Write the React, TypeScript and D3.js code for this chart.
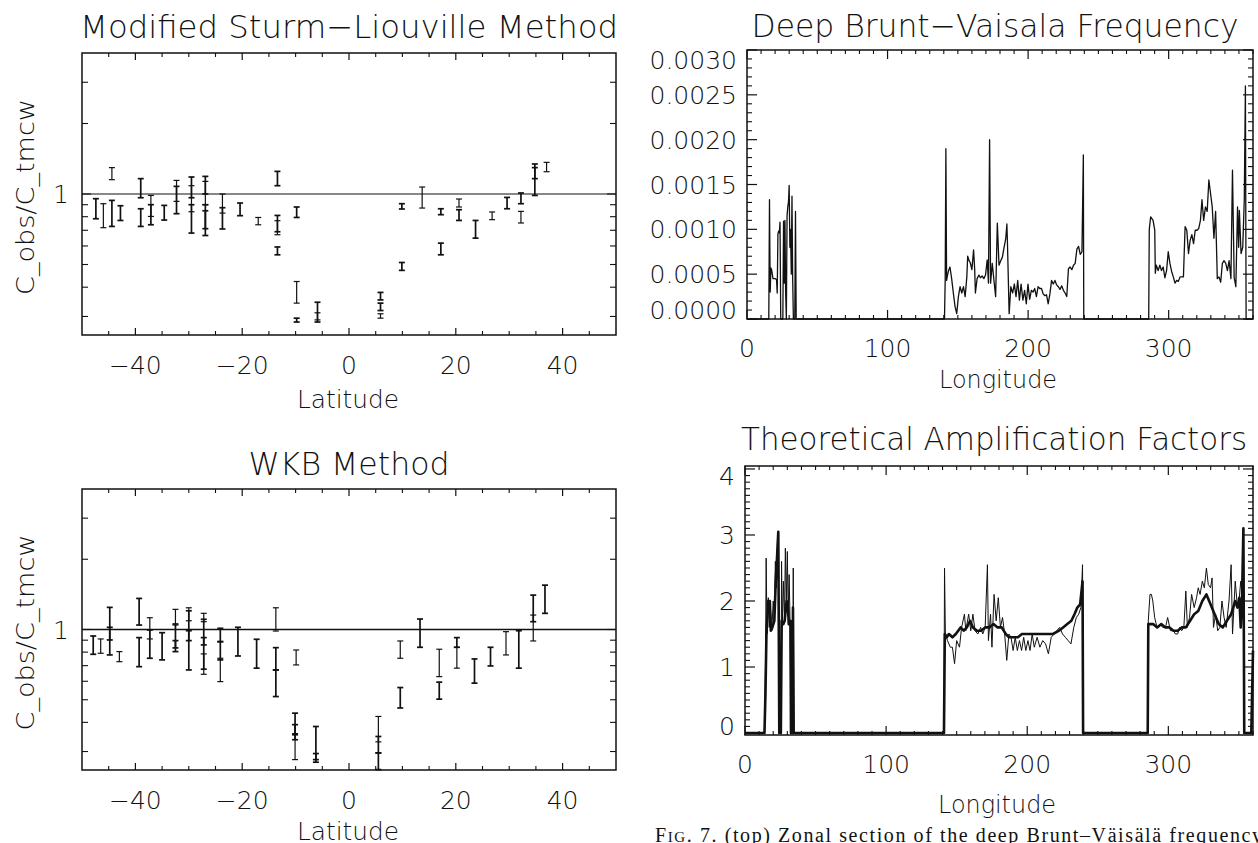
import React from 'react';
import * as d3 from 'd3';

// C_obs / C_tmcw error bars, Modified Sturm-Liouville method
const mslLat = [-47.4, -46.0, -44.4, -42.8, -44.4, -39.0, -39.0, -37.1, -37.1, -34.6, -32.3, -32.3, -29.5, -29.5, -29.5,
  -26.9, -26.9, -26.9, -26.9, -23.7, -23.7, -20.4, -17.0, -13.4, -13.4, -13.4, -13.4, -9.8, -9.8, -9.8, -5.9, -5.9,
  5.9, 5.9, 5.9, 9.9, 9.9, 13.7, 17.2, 17.2, 20.6, 20.6, 23.7, 26.8, 29.6, 32.2, 32.2, 34.8, 34.8, 37.0];
const mslLow = [0.784, 0.718, 0.727, 0.771, 1.151, 0.964, 0.727, 0.802, 0.739, 0.774, 0.930, 0.824, 0.964, 0.840, 0.681,
  1.000, 0.900, 0.665, 0.711, 0.829, 0.709, 0.808, 0.739, 1.085, 0.690, 0.670, 0.550, 0.794, 0.342, 0.284, 0.284, 0.290,
  0.353, 0.318, 0.295, 0.863, 0.472, 0.871, 0.816, 0.550, 0.880, 0.771, 0.648, 0.777, 0.865, 0.909, 0.752, 0.986, 1.163, 1.245];
const mslHigh = [0.955, 0.909, 0.939, 0.891, 1.296, 1.163, 0.865, 0.986, 0.900, 0.894, 1.143, 1.078, 1.182, 1.085, 0.900,
  1.189, 1.132, 0.900, 0.848, 1.000, 0.874, 0.915, 0.794, 1.249, 0.810, 0.769, 0.594, 0.880, 0.423, 0.295, 0.345, 0.311,
  0.380, 0.342, 0.308, 0.909, 0.510, 1.071, 0.865, 0.617, 0.952, 0.857, 0.771, 0.838, 0.967, 1.010, 0.843, 1.343, 1.296, 1.365];

// C_obs / C_tmcw error bars, WKB method
const wkbLat = [-47.9, -46.5, -44.8, -44.8, -43.0, -39.3, -39.3, -37.3, -37.3, -35.0, -32.5, -32.5, -32.5, -30.0, -30.0,
  -30.0, -27.2, -27.2, -27.2, -27.2, -24.1, -24.1, -24.1, -20.8, -17.3, -13.7, -13.7, -13.7, -9.9, -10.1, -10.1, -10.1,
  -6.2, -6.2, 5.5, 5.5, 5.5, 9.6, 9.6, 13.3, 16.9, 16.9, 20.2, 20.2, 23.5, 26.5, 29.4, 31.8, 34.5, 34.5, 36.7];
const wkbLow = [0.783, 0.791, 0.778, 0.902, 0.728, 1.045, 0.693, 0.911, 0.753, 0.741, 1.045, 0.834, 0.804, 1.090, 0.896,
  0.671, 1.080, 0.859, 0.676, 0.643, 0.887, 0.741, 0.598, 0.770, 0.683, 0.985, 0.671, 0.516, 0.705, 0.354, 0.337, 0.277,
  0.270, 0.277, 0.330, 0.296, 0.251, 0.753, 0.461, 0.839, 0.628, 0.503, 0.839, 0.683, 0.589, 0.698, 0.778, 0.683, 1.080, 0.893, 1.173];
const wkbHigh = [0.938, 0.911, 1.244, 1.022, 0.804, 1.359, 0.923, 1.123, 0.995, 0.969, 1.220, 1.056, 0.896, 1.239, 1.203,
  0.988, 1.173, 1.106, 0.923, 0.786, 1.012, 0.887, 0.753, 1.022, 0.908, 1.239, 0.836, 0.671, 0.817, 0.438, 0.391, 0.358,
  0.384, 0.294, 0.424, 0.348, 0.296, 0.893, 0.564, 1.109, 0.823, 0.595, 0.923, 0.839, 0.748, 0.839, 0.979, 0.988, 1.404, 1.153, 1.549];

// deep Brunt-Vaisala frequency along longitude
const bvLon = [0, 15.5, 16.0, 16.5, 17.0, 17.5, 18.5, 20.0, 21.0, 21.5, 22.0, 22.5, 23.0, 23.5, 24.0, 25.5, 26.0, 26.5,
  27.0, 27.5, 28.0, 28.5, 29.0, 29.5, 30.0, 30.5, 31.0, 31.5, 32.0, 32.5, 33.0, 34.0, 34.5, 35.0,
  140.5, 141.0, 141.5, 142.0, 142.8, 143.6, 144.4, 145.6, 146.8, 148.0, 149.2, 150.4, 151.6, 152.8, 154.0, 155.2, 156.4,
  157.0, 158.0, 158.8, 160.0, 161.2, 162.0, 162.5, 163.7, 165.0, 166.1, 167.3, 168.5, 169.7, 170.9, 171.8, 172.6, 173.3,
  174.5, 175.7, 176.9, 178.1, 179.3, 180.5, 181.7, 182.9, 184.1, 184.9, 185.3, 186.5, 187.7, 189.0, 190.2, 191.4, 192.6,
  193.8, 195.0, 196.3, 197.5, 198.7, 199.9, 201.1, 202.3, 203.5, 204.7, 205.9, 207.1, 208.3, 209.5, 210.7, 211.9, 213.1,
  214.3, 215.5, 216.7, 217.9, 219.1, 220.3, 221.5, 222.7, 223.9, 225.1, 226.3, 227.5, 228.7, 229.9, 231.1, 232.3, 233.5,
  234.7, 235.9, 237.1, 238.3, 239.3, 239.6,
  285.8, 286.2, 287.2, 288.9, 290.1, 290.5, 291.2, 292.5, 293.7, 294.9, 296.1, 297.3, 298.5, 299.7, 300.9, 302.1, 303.3,
  304.5, 305.7, 306.9, 308.1, 310.5, 311.7, 312.9, 314.1, 315.3, 316.5, 317.7, 318.9, 320.2, 321.4, 322.6, 323.7, 324.9,
  326.2, 327.4, 328.6, 329.8, 331.0, 332.2, 333.4, 334.6, 335.8, 337.0, 338.2, 339.4, 340.6, 341.8, 343.0, 344.3, 345.4,
  346.6, 347.8, 349.0, 349.8, 350.3, 351.5, 352.7, 353.8, 354.6, 355.1, 360];
const bvFreq = [0, 0, 0.00133, 0.00030, 0.00057, 0.00055, 0.00045, 0.00045, 0.00044, 0.00029, 0.00095, 0.00098, 0.00096,
  0.00108, 0, 0, 0.00109, 0.00040, 0.00110, 0.00030, 0, 0.00115, 0.00125, 0.00130, 0.00149, 0.00080, 0.00100, 0.00050,
  0.00137, 0.00045, 0, 0, 0.00120, 0,
  0, 0.00043, 0.00190, 0.00043, 0.00050, 0.00055, 0.00058, 0.00045, 0.00029, 0.00014, 0.00006, 0.00025, 0.00036, 0.00029,
  0.00036, 0.00025, 0.00047, 0.00070, 0.00065, 0.00063, 0.00055, 0.00077, 0.00055, 0.00029, 0.00045, 0.00049, 0.00046,
  0.00048, 0.00045, 0.00049, 0.00066, 0.00040, 0.00200, 0.00040, 0.00062, 0.00043, 0.00025, 0.00107, 0.00060, 0.00065,
  0.00069, 0.00080, 0.00090, 0.00106, 0.00085, 0.00006, 0.00036, 0.00029, 0.00039, 0.00025, 0.00043, 0.00021, 0.00039,
  0.00021, 0.00032, 0.00017, 0.00039, 0.00022, 0.00032, 0.00030, 0.00034, 0.00025, 0.00036, 0.00034, 0.00034, 0.00028,
  0.00026, 0.00027, 0.00017, 0.00028, 0.00043, 0.00039, 0.00043, 0.00038, 0.00036, 0.00033, 0.00037, 0.00032, 0.00029,
  0.00025, 0.00056, 0.00058, 0.00055, 0.00060, 0.00062, 0.00078, 0.00081, 0.00072, 0.00075, 0.00183, 0,
  0, 0.00100, 0.00114, 0.00110, 0.00099, 0.00051, 0.00060, 0.00054, 0.00060, 0.00054, 0.00058, 0.00046, 0.00054, 0.00075,
  0.00062, 0.00053, 0.00047, 0.00040, 0.00043, 0.00042, 0.00047, 0.00047, 0.00103, 0.00099, 0.00073, 0.00088, 0.00094,
  0.00084, 0.00099, 0.00099, 0.00101, 0.00110, 0.00133, 0.00110, 0.00125, 0.00120, 0.00155, 0.00140, 0.00125, 0.00090,
  0.00120, 0.00045, 0.00047, 0.00041, 0.00062, 0.00065, 0.00062, 0.00054, 0.00065, 0.00045, 0.00166, 0.00046, 0.00036,
  0.00125, 0.00080, 0.00121, 0.00073, 0.00080, 0.00133, 0.00260, 0, 0];

// theoretical amplification factor, smooth (thick) curve
const ampLon = [0, 13.8, 14.5, 15.2, 16.5, 17.6, 18.3, 19.4, 20.8, 21.8, 22.8, 23.6, 24.3, 25.4, 26.0, 27.2, 28.1, 29.5,
  30.5, 31.0, 32.2, 32.6, 33.6, 34.0, 34.5,
  141.0, 141.6, 143.0, 144.5, 147.0, 149.4, 152.8, 155.0, 157.2, 159.5, 161.5, 164.4, 167.3, 170.2, 173.2, 176.1, 179.0,
  181.9, 184.8, 187.1, 190.5, 193.4, 196.3, 199.2, 202.2, 205.1, 208.0, 210.9, 215.3, 218.2, 222.5, 225.4, 228.4, 231.3,
  233.5, 235.5, 237.5, 239.2, 239.6,
  285.4, 285.8, 287.7, 289.2, 292.1, 295.0, 297.9, 300.8, 303.7, 306.6, 309.5, 312.4, 315.4, 318.3, 321.2, 324.1, 327.0,
  329.9, 332.8, 335.7, 338.6, 341.5, 344.5, 347.4, 349.0, 350.3, 351.3, 352.2, 353.2, 353.8, 358.8, 360];
const ampSmooth = [0, 0, 0.6, 1.5, 2.0, 2.0, 1.55, 1.6, 1.7, 2.3, 2.7, 3.05, 0, 0, 1.7, 1.65, 1.7, 2.0, 1.9, 1.65, 1.7, 0,
  0, 1.9, 0,
  0, 1.5, 1.45, 1.5, 1.45, 1.5, 1.6, 1.55, 1.6, 1.7, 1.6, 1.55, 1.55, 1.6, 1.6, 1.65, 1.6, 1.6, 1.5, 1.45, 1.45, 1.45,
  1.5, 1.5, 1.5, 1.5, 1.5, 1.5, 1.5, 1.5, 1.55, 1.6, 1.65, 1.7, 1.8, 1.9, 1.95, 2.3, 0,
  0, 1.65, 1.65, 1.65, 1.6, 1.65, 1.6, 1.6, 1.55, 1.55, 1.6, 1.6, 1.7, 1.8, 1.85, 2.0, 2.1, 1.95, 1.8, 1.65, 1.6, 1.7,
  1.8, 2.0, 1.9, 2.05, 1.6, 2.0, 3.1, 0, 0, 1.25];

// theoretical amplification factor, raw (thin) curve
const ampRawLon = [0, 13.8, 14.5, 15.0, 15.6, 16.5, 17.2, 18.0, 19.0, 20.0, 20.8, 21.5, 22.3, 23.0, 23.7, 24.3, 25.5,
  25.9, 26.4, 27.2, 28.0, 28.6, 29.3, 30.0, 30.6, 31.3, 32.0, 32.5, 33.8, 34.2, 34.6,
  141.0, 141.4, 142.0, 143.5, 145.5, 147.0, 148.5, 150.0, 152.0, 153.5, 155.5, 156.5, 158.5, 160.0, 161.5, 163.0, 165.0,
  167.0, 168.5, 170.2, 171.8, 172.5, 174.0, 175.0, 176.5, 178.0, 179.5, 181.0, 182.5, 184.0, 185.5, 187.0, 188.5, 190.0,
  191.5, 193.0, 194.5, 196.0, 197.5, 199.0, 200.5, 202.0, 203.5, 205.0, 207.0, 209.0, 211.0, 213.0, 215.0, 217.0, 219.0,
  221.0, 223.0, 225.0, 227.0, 229.0, 231.0, 233.0, 234.8, 236.5, 238.0, 239.2, 239.6,
  285.4, 285.8, 287.0, 288.0, 289.0, 290.3, 292.0, 294.0, 296.0, 298.0, 299.5, 301.5, 303.7, 305.0, 306.6, 308.0, 309.5,
  311.0, 312.4, 313.5, 315.0, 316.5, 318.3, 320.0, 321.2, 322.5, 324.1, 325.5, 327.0, 328.3, 329.9, 331.0, 332.0, 333.5,
  335.0, 336.5, 338.0, 339.5, 341.0, 343.0, 344.5, 345.5, 347.4, 349.0, 350.3, 351.3, 352.2, 353.2, 353.8, 360];
const ampRaw = [0, 0, 1.0, 2.65, 1.5, 2.05, 1.6, 1.9, 1.55, 2.0, 1.7, 2.6, 2.2, 2.9, 3.05, 0, 0, 2.6, 1.6, 2.3, 1.7, 2.8,
  2.0, 2.75, 1.8, 2.4, 1.6, 0, 0, 2.5, 0,
  0, 2.5, 1.5, 1.4, 1.3, 1.3, 1.05, 1.4, 1.3, 1.6, 1.8, 1.55, 1.8, 1.55, 1.8, 1.55, 1.5, 1.6, 1.5, 1.6, 2.55, 1.4, 1.8,
  1.3, 2.1, 1.7, 2.05, 1.6, 1.75, 1.5, 1.1, 1.5, 1.45, 1.25, 1.45, 1.25, 1.4, 1.25, 1.45, 1.25, 1.4, 1.25, 1.5, 1.3, 1.45,
  1.3, 1.4, 1.35, 1.2, 1.45, 1.5, 1.55, 1.6, 1.5, 1.45, 1.4, 1.35, 1.6, 1.75, 1.8, 1.9, 2.55, 0,
  0, 1.7, 2.1, 2.1, 2.0, 1.75, 1.6, 1.65, 1.6, 1.6, 1.75, 1.55, 1.55, 1.5, 1.5, 1.6, 1.55, 1.6, 2.15, 1.6, 1.75, 2.1, 1.9,
  2.05, 2.2, 2.1, 2.3, 2.2, 2.5, 2.25, 2.2, 2.35, 1.6, 1.8, 1.55, 1.6, 2.0, 1.75, 1.6, 2.0, 2.55, 1.5, 2.3, 1.9, 2.05,
  2.3, 2.1, 3.1, 0, 0];

const latTicks = [-40, -20, 0, 20, 40];
const ratioTicks = [0.3, 0.4, 0.5, 0.6, 0.7, 0.8, 0.9, 1, 2, 3];
const lonTicks = [0, 100, 200, 300];
const bvTicks = [0, 0.0005, 0.001, 0.0015, 0.002, 0.0025, 0.003];
const ampTicks = [0, 1, 2, 3, 4];

const INK = '#111';
const SANS = '"DejaVu Sans", "Liberation Sans", sans-serif';
const MINUS = '\u2212';

type Box = { left: number; right: number; top: number; bottom: number };

const fmtLat = (v: number) => (v < 0 ? MINUS + Math.abs(v) : String(v));

function RatioPanel(props: {
  box: Box; title: string; titleWidth: number; titleY: number;
  lat: number[]; low: number[]; high: number[]; lineWidth: number;
}) {
  const { box, lat, low, high } = props;
  const x = d3.scaleLinear().domain([-50, 50]).range([box.left, box.right]);
  const y = d3.scaleLog().domain([0.25, 4]).range([box.bottom, box.top]);
  const minor = d3.range(-45, 50, 5).filter(v => v % 20 !== 0);
  const cx = (box.left + box.right) / 2;
  const cy = y(1);

  return (
    <g>
      <text x={cx} y={props.titleY} fontSize={32} textAnchor="middle" textLength={props.titleWidth}
        lengthAdjust="spacingAndGlyphs">{props.title}</text>
      <rect x={box.left} y={box.top} width={box.right - box.left} height={box.bottom - box.top}
        fill="none" stroke={INK} strokeWidth={1.5} />
      <line x1={box.left} x2={box.right} y1={cy} y2={cy} stroke={INK} strokeWidth={props.lineWidth} />
      {latTicks.map(t => (
        <g key={'M' + t}>
          <line x1={x(t)} x2={x(t)} y1={box.bottom} y2={box.bottom - 7} stroke={INK} strokeWidth={1.2} />
          <line x1={x(t)} x2={x(t)} y1={box.top} y2={box.top + 7} stroke={INK} strokeWidth={1.2} />
          <text x={x(t)} y={box.bottom + 39} fontSize={25} textAnchor="middle">{fmtLat(t)}</text>
        </g>
      ))}
      {minor.map(t => (
        <g key={'m' + t}>
          <line x1={x(t)} x2={x(t)} y1={box.bottom} y2={box.bottom - 4} stroke={INK} strokeWidth={1.1} />
          <line x1={x(t)} x2={x(t)} y1={box.top} y2={box.top + 4} stroke={INK} strokeWidth={1.1} />
        </g>
      ))}
      {ratioTicks.map(t => (
        <g key={'r' + t}>
          <line x1={box.left} x2={box.left + (t === 1 ? 9 : 6)} y1={y(t)} y2={y(t)} stroke={INK} strokeWidth={1.1} />
          <line x1={box.right} x2={box.right - (t === 1 ? 9 : 6)} y1={y(t)} y2={y(t)} stroke={INK} strokeWidth={1.1} />
        </g>
      ))}
      <text x={box.left - 13} y={cy + 9} fontSize={25} textAnchor="end">1</text>
      <text x={cx - 1} y={Math.min(box.bottom + 73, 840)} fontSize={25} textAnchor="middle" textLength={102}
        lengthAdjust="spacingAndGlyphs">Latitude</text>
      <text transform={`translate(34,${(box.top + box.bottom) / 2 + 3}) rotate(-90)`} fontSize={25}
        textAnchor="middle" textLength={196} lengthAdjust="spacingAndGlyphs">C_obs/C_tmcw</text>
      {lat.map((v, i) => {
        const px = x(v);
        const y0 = y(low[i]);
        const y1 = y(high[i]);
        return (
          <g key={'b' + i} stroke={INK} strokeWidth={i % 3 === 1 ? 1.2 : 1.7}>
            <line x1={px} x2={px} y1={y0} y2={y1} />
            <line x1={px - 3} x2={px + 3} y1={y0} y2={y0} />
            <line x1={px - 3} x2={px + 3} y1={y1} y2={y1} />
          </g>
        );
      })}
    </g>
  );
}

function LonPanel(props: {
  box: Box; title: string; titleWidth: number; titleY: number; labelGap: number;
  domain: [number, number]; ticks: number[]; minorStep: number; fmt: (v: number) => string;
  series: { lon: number[]; val: number[]; width: number }[];
}) {
  const { box } = props;
  const x = d3.scaleLinear().domain([0, 360]).range([box.left, box.right]);
  const y = d3.scaleLinear().domain(props.domain).range([box.bottom, box.top]);
  const cx = (box.left + box.right) / 2;
  const lonMinor = d3.range(0, 361, 10).filter(v => v % 100 !== 0);
  const yMinor = d3.range(0, props.ticks.length - 1).flatMap(i =>
    d3.range(1, props.minorStep).map(k => props.ticks[i] + (k * (props.ticks[i + 1] - props.ticks[i])) / props.minorStep));
  const labelY = (v: number) => Math.min(Math.max(y(v), box.top + 10), box.bottom - 9) + 9;

  return (
    <g>
      <text x={cx - 5} y={props.titleY} fontSize={32} textAnchor="middle" textLength={props.titleWidth}
        lengthAdjust="spacingAndGlyphs">{props.title}</text>
      <rect x={box.left} y={box.top} width={box.right - box.left} height={box.bottom - box.top}
        fill="none" stroke={INK} strokeWidth={1.5} />
      {lonTicks.map(t => (
        <g key={'L' + t}>
          <line x1={x(t)} x2={x(t)} y1={box.bottom} y2={box.bottom - 9} stroke={INK} strokeWidth={1.2} />
          <line x1={x(t)} x2={x(t)} y1={box.top} y2={box.top + 9} stroke={INK} strokeWidth={1.2} />
          <text x={x(t)} y={box.bottom + 38} fontSize={25} textAnchor="middle">{t}</text>
        </g>
      ))}
      {lonMinor.map(t => (
        <g key={'l' + t}>
          <line x1={x(t)} x2={x(t)} y1={box.bottom} y2={box.bottom - 4} stroke={INK} strokeWidth={1.1} />
          <line x1={x(t)} x2={x(t)} y1={box.top} y2={box.top + 4} stroke={INK} strokeWidth={1.1} />
        </g>
      ))}
      {props.ticks.map(t => (
        <g key={'Y' + t}>
          <line x1={box.left} x2={box.left + 10} y1={y(t)} y2={y(t)} stroke={INK} strokeWidth={1.2} />
          <line x1={box.right} x2={box.right - 10} y1={y(t)} y2={y(t)} stroke={INK} strokeWidth={1.2} />
          <text x={box.left - 10} y={labelY(t)} fontSize={25} textAnchor="end">{props.fmt(t)}</text>
        </g>
      ))}
      {yMinor.map((t, i) => (
        <g key={'y' + i}>
          <line x1={box.left} x2={box.left + 5} y1={y(t)} y2={y(t)} stroke={INK} strokeWidth={1.1} />
          <line x1={box.right} x2={box.right - 5} y1={y(t)} y2={y(t)} stroke={INK} strokeWidth={1.1} />
        </g>
      ))}
      <text x={cx - 2} y={box.bottom + props.labelGap} fontSize={25} textAnchor="middle"
        textLength={118} lengthAdjust="spacingAndGlyphs">Longitude</text>
      {props.series.map((s, k) => {
        const line = d3.line<number>().x((_, i) => x(s.lon[i])).y(d => y(d));
        return (
          <path key={'s' + k} d={line(s.val) || ''} fill="none" stroke={INK} strokeWidth={s.width}
            strokeLinejoin="round" />
        );
      })}
    </g>
  );
}

export default function App() {
  return (
    <svg width={1258} height={843} style={{ position: 'absolute', left: 0, top: 0, background: '#fff' }}
      fontFamily={SANS} fontWeight={200} fill={INK}>
      <RatioPanel box={{ left: 82, right: 616, top: 53, bottom: 335 }} title={'Modified Sturm' + MINUS + 'Liouville Method'}
        titleWidth={538} titleY={38} lat={mslLat} low={mslLow} high={mslHigh} lineWidth={1} />
      <RatioPanel box={{ left: 82, right: 616, top: 489, bottom: 770 }} title="WKB Method"
        titleWidth={201} titleY={475} lat={wkbLat} low={wkbLow} high={wkbHigh} lineWidth={1.6} />
      <LonPanel box={{ left: 747, right: 1253, top: 50, bottom: 319 }} title={'Deep Brunt' + MINUS + 'Vaisala Frequency'}
        titleWidth={487} titleY={37} labelGap={69} domain={[0, 0.003]} ticks={bvTicks} minorStep={5}
        fmt={d3.format('.4f')} series={[{ lon: bvLon, val: bvFreq, width: 1.3 }]} />
      <LonPanel box={{ left: 745, right: 1253, top: 466, bottom: 735 }} title="Theoretical Amplification Factors"
        titleWidth={506} titleY={450} labelGap={78} domain={[-0.03, 4.045]} ticks={ampTicks} minorStep={10}
        fmt={v => String(v)}
        series={[{ lon: ampRawLon, val: ampRaw, width: 1 }, { lon: ampLon, val: ampSmooth, width: 2.6 }]} />
      <text x={655} y={842} fontFamily='"Liberation Serif", "Times New Roman", serif' fontWeight={400}
        fontSize={20} textLength={607} lengthAdjust="spacing">
        F<tspan fontSize={15}>IG</tspan>. 7. (top) Zonal section of the deep Brunt–Väisälä frequency
      </text>
    </svg>
  );
}
